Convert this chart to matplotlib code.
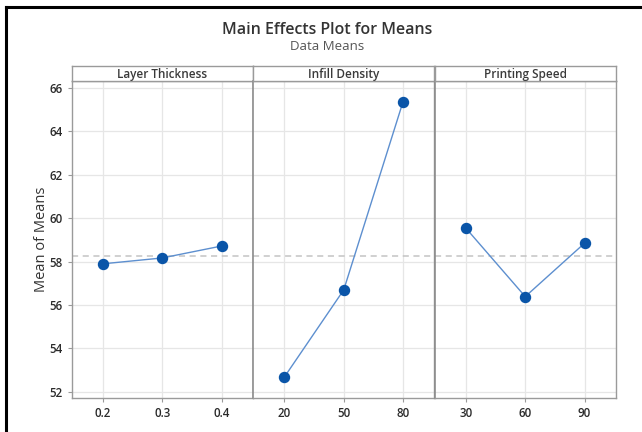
import matplotlib
matplotlib.use("Agg")
import matplotlib.pyplot as plt
from matplotlib.lines import Line2D
import numpy as np

plt.rcParams['font.family'] = ['Open Sans', 'DejaVu Sans']

factors = ["Layer Thickness", "Infill Density", "Printing Speed"]
levels = [["0.2", "0.3", "0.4"], ["20", "50", "80"], ["30", "60", "90"]]
means = [
    [57.90, 58.17, 58.72],
    [52.69, 56.70, 65.37],
    [59.54, 56.39, 58.85],
]
y_ticks = [52, 54, 56, 58, 60, 62, 64, 66]

grand_mean = np.mean(means[0])

W, H = 642, 432
fig = plt.figure(figsize=(W / 100, H / 100), dpi=100)

left, right = 71.5 / W, 616 / W
bottom, top = 1 - 398 / H, 1 - 81 / H
strip_top = 1 - 66 / H
pw = (right - left) / 3

frame_col = "#9a9a9a"
grid_col = "#e6e6e6"
line_col = "#5d8fcf"
marker_col = "#0a55a8"

for i, (name, lv, m) in enumerate(zip(factors, levels, means)):
    ax = fig.add_axes([left + i * pw, bottom, pw, top - bottom])
    x = np.arange(1, len(lv) + 1)
    ax.set_xlim(0.47, 3.53)
    ax.set_ylim(51.72, 66.32)
    ax.set_yticks(y_ticks)
    ax.set_xticks(x)
    ax.set_xticklabels(lv)
    ax.grid(True, color=grid_col, linewidth=0.9)
    ax.set_axisbelow(True)
    ax.axhline(grand_mean, color="#c4c4c4", linestyle=(0, (4, 3)), linewidth=1.1, zorder=1)
    ax.plot(x, m, color=line_col, linewidth=1.0, zorder=2)
    ax.plot(x, m, "o", color=marker_col, markersize=7.2, zorder=3)
    for s in ax.spines.values():
        s.set_color(frame_col)
        s.set_linewidth(1.0)
    if i > 0:
        ax.spines['left'].set_color("#8c8c8c")
        ax.spines['left'].set_linewidth(1.2)
    ax.tick_params(axis='both', colors="#9a9a9a", labelcolor="#2a2a2a",
                   labelsize=8.3, length=3, width=0.8)
    for lab in ax.get_xticklabels() + ax.get_yticklabels():
        lab.set_fontweight('semibold')
    if i == 0:
        ax.set_ylabel("Mean of Means", fontsize=10.5, color="#333333", labelpad=0.5)
    else:
        ax.tick_params(axis='y', left=False, labelleft=False)

    sax = fig.add_axes([left + i * pw, top, pw, strip_top - top])
    sax.set_xticks([])
    sax.set_yticks([])
    for s in sax.spines.values():
        s.set_color(frame_col)
        s.set_linewidth(1.0)
    sax.text(0.5, 0.45, name, ha="center", va="center", fontsize=8.5,
             fontweight='semibold', color="#3a3a3a", transform=sax.transAxes)

fig.text(0.509, 1 - 30 / H, "Main Effects Plot for Means", ha="center", va="center",
         fontsize=11.5, fontweight='semibold', color="#333333")
fig.text(0.509, 1 - 47 / H, "Data Means", ha="center", va="center",
         fontsize=9.5, color="#555555")

# outer frame on the left and top edges
fig.add_artist(Line2D([6 / W, 6 / W], [0, 1 - 7 / H], color="black", linewidth=2.2,
                      transform=fig.transFigure))
fig.add_artist(Line2D([6 / W, 1], [1 - 7 / H, 1 - 7 / H], color="black", linewidth=2.2,
                      transform=fig.transFigure))

fig.savefig("out.png", dpi=100)
